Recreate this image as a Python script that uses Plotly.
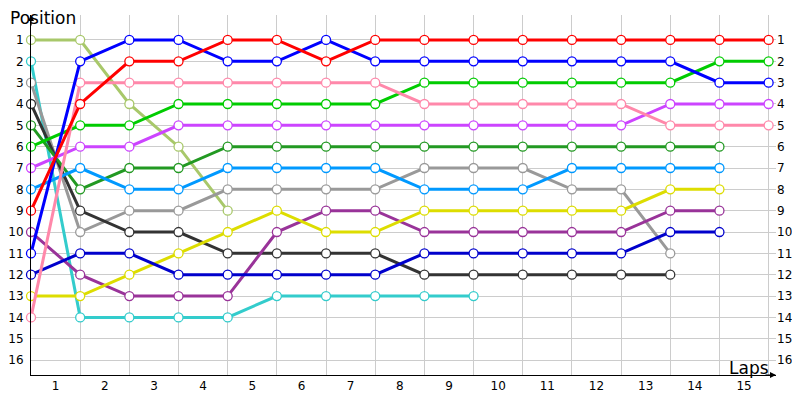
import plotly.graph_objects as go

# lap chart: position of each car at the end of every lap (lap 0 = grid)
laps = list(range(16))
lap_labels = [str(i) for i in range(1, 16)]
positions_axis = list(range(1, 17))

red = [9, 4, 2, 2, 1, 1, 2, 1, 1, 1, 1, 1, 1, 1, 1, 1]
blue = [11, 2, 1, 1, 2, 2, 1, 2, 2, 2, 2, 2, 2, 2, 3, 3]
pink = [14, 3, 3, 3, 3, 3, 3, 3, 4, 4, 4, 4, 4, 5, 5, 5]
green = [6, 5, 5, 4, 4, 4, 4, 4, 3, 3, 3, 3, 3, 3, 2, 2]
magenta = [7, 6, 6, 5, 5, 5, 5, 5, 5, 5, 5, 5, 5, 4, 4, 4]
dark_green = [5, 8, 7, 7, 6, 6, 6, 6, 6, 6, 6, 6, 6, 6, 6]
light_blue = [8, 7, 8, 8, 7, 7, 7, 7, 8, 8, 8, 7, 7, 7, 7]
gray = [3, 10, 9, 9, 8, 8, 8, 8, 7, 7, 7, 8, 8, 11]
light_green = [1, 1, 4, 6, 9]
black = [4, 9, 10, 10, 11, 11, 11, 11, 12, 12, 12, 12, 12, 12]
yellow = [13, 13, 12, 11, 10, 9, 10, 10, 9, 9, 9, 9, 9, 8, 8]
purple = [10, 12, 13, 13, 13, 10, 9, 9, 10, 10, 10, 10, 10, 9, 9]
dark_blue = [12, 11, 11, 12, 12, 12, 12, 12, 11, 11, 11, 11, 11, 10, 10]
cyan = [2, 14, 14, 14, 14, 13, 13, 13, 13, 13]

series = [
    (cyan, '#33cccc'),
    (light_green, '#a8c86a'),
    (gray, '#999999'),
    (black, '#333333'),
    (dark_green, '#229922'),
    (purple, '#993399'),
    (yellow, '#dddd00'),
    (dark_blue, '#0000cc'),
    (light_blue, '#0099ff'),
    (magenta, '#cc44ff'),
    (green, '#00cc00'),
    (pink, '#ff88aa'),
    (blue, '#0000ff'),
    (red, '#ff0000'),
]

fig = go.Figure()
for pos, col in series:
    fig.add_trace(go.Scatter(
        x=laps[:len(pos)], y=pos, mode='lines+markers',
        line=dict(color=col, width=3),
        marker=dict(size=9, color='white', line=dict(color=col, width=1.3)),
        cliponaxis=False, showlegend=False))

# dummy trace so the right-hand axis is drawn
fig.add_trace(go.Scatter(x=[None], y=[None], yaxis='y2', showlegend=False))

font = dict(family='DejaVu Sans', size=12, color='black')
yrange = [16.7, -0.17]

# page body has an 8px margin, so the figure is a bit smaller than the window
fig.update_layout(
    width=792, height=392,
    margin=dict(l=23, r=24, t=7, b=25),
    plot_bgcolor='white', paper_bgcolor='white',
    font=font,
    xaxis=dict(range=[0, 15.15], tickvals=[i + 0.5 for i in range(15)],
               ticktext=lap_labels, showgrid=False, zeroline=False,
               showline=True, linecolor='black', linewidth=1, ticks='',
               automargin=False,
               minor=dict(tickvals=laps, showgrid=True, gridcolor='#cccccc',
                          gridwidth=1, ticks='')),
    yaxis=dict(range=yrange, tickvals=positions_axis, showgrid=True,
               gridcolor='#cccccc', gridwidth=1, zeroline=False,
               showline=True, linecolor='black', linewidth=1, ticks='',
               ticklabelstandoff=4, automargin=False),
    yaxis2=dict(range=yrange, tickvals=positions_axis, overlaying='y',
                side='right', showgrid=False, zeroline=False, ticks='',
                automargin=False),
    annotations=[
        dict(text='Position', xref='paper', yref='paper', x=-0.031, y=1.025,
             xanchor='left', yanchor='top', showarrow=False,
             font=dict(family='DejaVu Sans', size=17)),
        dict(text='Laps', xref='paper', yref='paper', x=0.993, y=-0.015,
             xanchor='right', yanchor='bottom', showarrow=False,
             font=dict(family='DejaVu Sans', size=17)),
        dict(x=0, y=yrange[1], xref='x', yref='y', ax=0, ay=12, text='',
             showarrow=True, arrowhead=2, arrowsize=1, arrowwidth=1.2,
             arrowcolor='black'),
        dict(x=15.15, y=yrange[0], xref='x', yref='y', ax=-12, ay=0, text='',
             showarrow=True, arrowhead=2, arrowsize=1, arrowwidth=1.2,
             arrowcolor='black'),
    ],
)

fig.write_html("out.html")
